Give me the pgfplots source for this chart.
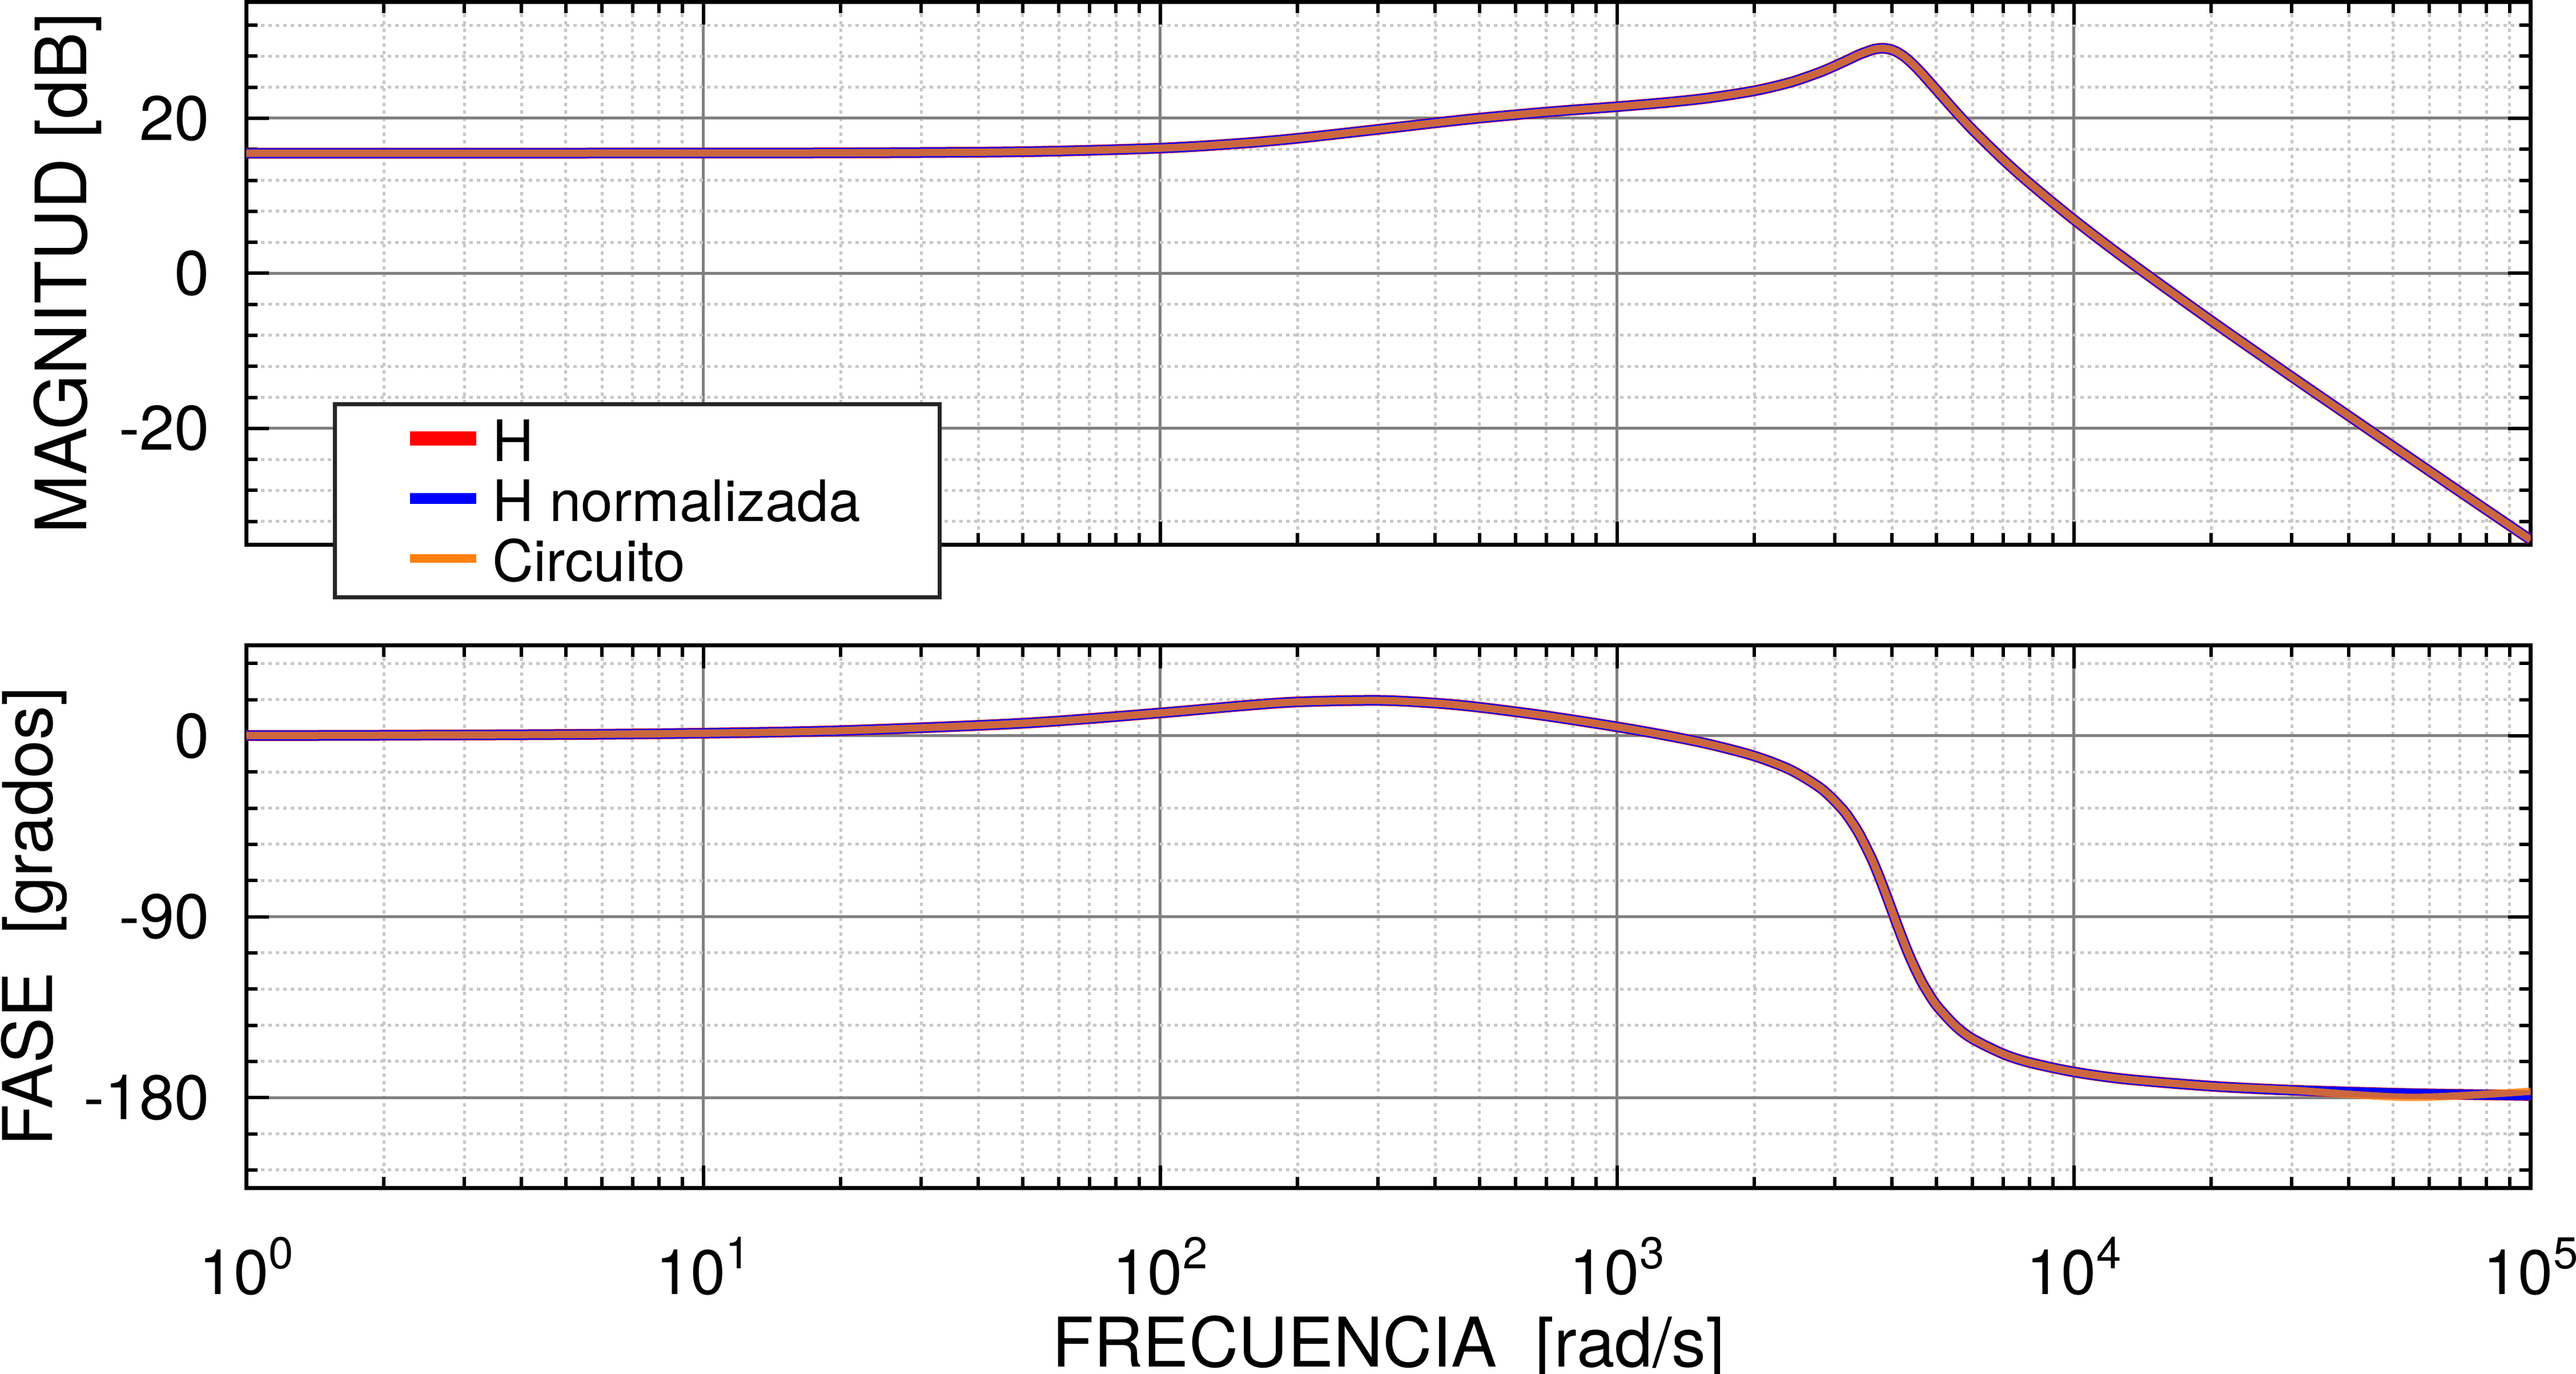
\documentclass[border=0pt]{standalone}
\usepackage{fontspec}
\setmainfont{TeX Gyre Heros}
\usepackage{pgfplots}
\pgfplotsset{compat=1.18}
\definecolor{cred}{RGB}{255,0,0}
\definecolor{cblue}{RGB}{0,0,255}
\definecolor{corange}{RGB}{255,128,14}
\definecolor{cmaj}{RGB}{128,128,128}
\definecolor{cmin}{RGB}{200,200,200}
\definecolor{cleg}{RGB}{38,38,38}
\newcommand{\ex}[1]{10\raisebox{4.5pt}{\fontsize{7.8}{8}\selectfont #1}}

\pgfplotstableread{
w mag
1 15.50
2 15.50
5 15.50
10 15.51
20 15.53
50 15.68
100 16.14
150 16.76
200 17.41
300 18.56
400 19.40
500 20.01
700 20.79
1000 21.49
1300 22.06
1600 22.64
2000 23.54
2400 24.64
2800 26.00
3100 27.14
3250 27.70
3400 28.24
3600 28.78
3700 28.95
3800 29.02
3900 28.97
4000 28.82
4100 28.55
4200 28.18
4300 27.73
4400 27.21
4550 26.37
4700 25.47
5000 23.68
5500 20.92
6000 18.54
7000 14.68
8000 11.63
10000 6.93
13000 1.82
20000 -6.12
30000 -13.34
50000 -22.31
70000 -28.18
100000 -34.38
}\magdata

\pgfplotstableread{
w ph
1 0.13
2 0.27
5 0.65
10 1.29
20 2.56
50 6.24
100 11.36
150 14.87
200 16.85
300 17.61
400 16.26
500 14.19
700 9.91
1000 4.47
1300 -0.08
1600 -4.28
2000 -10.08
2400 -16.99
2800 -26.27
3100 -35.96
3250 -42.10
3400 -49.25
3600 -60.50
3700 -66.80
3800 -73.40
3900 -80.20
4000 -86.98
4100 -93.60
4200 -99.90
4300 -105.80
4400 -111.20
4550 -118.30
4700 -124.40
5000 -133.90
5500 -144.20
6000 -150.70
7000 -158.20
8000 -162.50
10000 -167.20
13000 -170.80
20000 -174.30
30000 -176.30
50000 -177.80
70000 -178.40
100000 -178.90
}\phdata

\pgfplotstableread{
w ph
1 0.13
2 0.27
5 0.65
10 1.29
20 2.56
50 6.24
100 11.36
150 14.87
200 16.85
300 17.61
400 16.26
500 14.19
700 9.91
1000 4.47
1300 -0.08
1600 -4.28
2000 -10.08
2400 -16.99
2800 -26.27
3100 -35.96
3250 -42.10
3400 -49.25
3600 -60.50
3700 -66.80
3800 -73.40
3900 -80.20
4000 -86.98
4100 -93.60
4200 -99.90
4300 -105.80
4400 -111.20
4550 -118.30
4700 -124.40
5000 -133.90
5500 -144.20
6000 -150.70
7000 -158.20
8000 -162.50
10000 -167.20
13000 -170.80
20000 -174.30
30000 -176.30
55000 -179.90
100000 -176.80
}\phcirc

\begin{document}
\begin{tikzpicture}
\path[use as bounding box] (-43.15pt,-32.44pt) rectangle (407.95pt,207.96pt);

\begin{axis}[
  width=400pt, height=95pt, scale only axis,
  xmode=log, xmin=1, xmax=100000,
  xtick={1,10,100,1000,10000,100000},
  minor xtick={2,3,4,5,6,7,8,9,20,30,40,50,60,70,80,90,200,300,400,500,600,700,800,900,2000,3000,4000,5000,6000,7000,8000,9000,20000,30000,40000,50000,60000,70000,80000,90000},
  grid=both,
  major grid style={draw=cmaj, line width=0.5pt},
  minor grid style={draw=cmin, line width=0.5pt, dash pattern=on 0.6pt off 0.7pt},
  tick align=inside,
  major tick length=4pt, minor tick length=2pt,
  tick style={black, line width=0.6pt},
  axis line style={black, line width=0.65pt},
  tick label style={font=\fontsize{11}{13}\selectfont},
  label style={font=\fontsize{12}{14}\selectfont},
  yticklabel style={anchor=east, inner sep=0pt, xshift=-6.25pt},
  at={(0pt,112.62pt)}, anchor=south west,
  ymin=-35, ymax=35,
  ytick={-20,0,20}, yticklabels={-20,0,20},
  minor ytick={-32,-28,-24,-16,-12,-8,-4,4,8,12,16,24,28,32},
  xticklabel=\empty,
  ylabel={MAGNITUD [dB]},
  ylabel style={at={(axis description cs:-0.0699,0.5)}, rotate=0, anchor=base, font=\fontsize{12.4}{14}\selectfont},
  legend cell align=left,
  legend style={
    at={(axis description cs:0.038,0.2627)}, anchor=north west,
    draw=cleg, line width=0.7pt, fill=white,
    inner xsep=11.85pt, inner ysep=2.0pt,
    font=\fontsize{10}{12}\selectfont,
    nodes={inner sep=0pt, text height=8pt, text depth=0.8pt},
    row sep=1.7pt, column sep=1.6pt,
  },
  legend image code/.code={\draw[#1] (0pt,0.4pt) -- (11.6pt,0.4pt);},
]
\addplot[draw=cred, line width=1.9pt, smooth, legend image post style={line width=2.5pt}] table[x=w,y=mag] {\magdata};
\addlegendentry{H}
\addplot[draw=cblue, line width=1.75pt, smooth, legend image post style={line width=1.9pt}] table[x=w,y=mag] {\magdata};
\addlegendentry{H normalizada\hspace*{2pt}}
\addplot[draw=corange, line width=1.3pt, draw opacity=0.8, smooth, legend image post style={line width=1.45pt, draw opacity=1}] table[x=w,y=mag] {\magdata};
\addlegendentry{Circuito}
\end{axis}

\begin{axis}[
  width=400pt, height=95pt, scale only axis,
  xmode=log, xmin=1, xmax=100000,
  xtick={1,10,100,1000,10000,100000},
  minor xtick={2,3,4,5,6,7,8,9,20,30,40,50,60,70,80,90,200,300,400,500,600,700,800,900,2000,3000,4000,5000,6000,7000,8000,9000,20000,30000,40000,50000,60000,70000,80000,90000},
  grid=both,
  major grid style={draw=cmaj, line width=0.5pt},
  minor grid style={draw=cmin, line width=0.5pt, dash pattern=on 0.6pt off 0.7pt},
  tick align=inside,
  major tick length=4pt, minor tick length=2pt,
  tick style={black, line width=0.6pt},
  axis line style={black, line width=0.65pt},
  tick label style={font=\fontsize{11}{13}\selectfont},
  label style={font=\fontsize{12}{14}\selectfont},
  yticklabel style={anchor=east, inner sep=0pt, xshift=-6.25pt},
  at={(0pt,0pt)}, anchor=south west,
  ymin=-225, ymax=45,
  ytick={-180,-90,0}, yticklabels={-180,-90,0},
  minor ytick={-216,-198,-162,-144,-126,-108,-72,-54,-36,-18,18,36},
  xticklabels={\ex{0},\ex{1},\ex{2},\ex{3},\ex{4},\ex{5}},
  xticklabel style={anchor=base, yshift=-18.54pt},
  ylabel={FASE\ \ [grados]},
  ylabel style={at={(axis description cs:-0.0851,0.5)}, rotate=0, anchor=base},
  xlabel={FRECUENCIA\ \ [rad/s]},
  xlabel style={at={(axis description cs:0.5,-0.3297)}, anchor=base},
]
\addplot[draw=cred, line width=1.9pt, smooth] table[x=w,y=ph] {\phdata};
\addplot[draw=cblue, line width=1.75pt, smooth] table[x=w,y=ph] {\phdata};
\addplot[draw=corange, line width=1.3pt, draw opacity=0.8, smooth] table[x=w,y=ph] {\phcirc};
\end{axis}
\end{tikzpicture}
\end{document}
